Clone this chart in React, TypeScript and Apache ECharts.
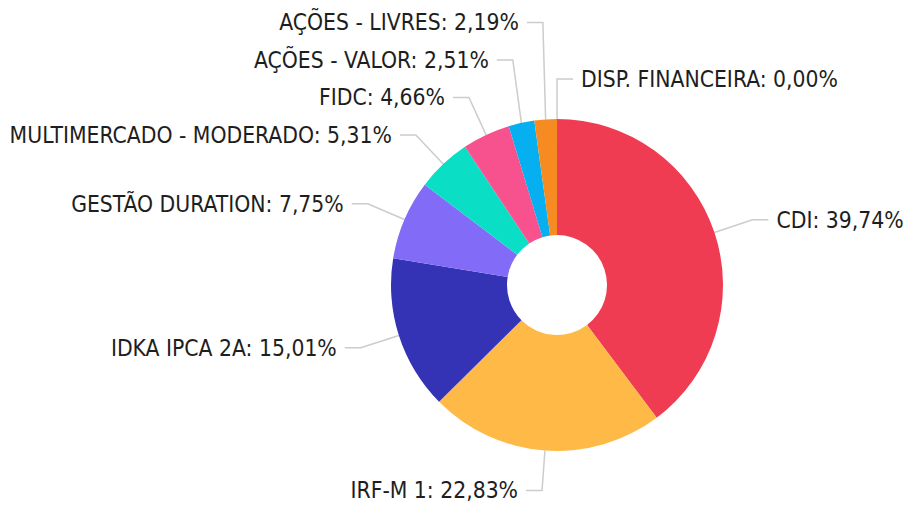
import React, { useEffect, useRef } from 'react';
import * as echarts from 'echarts';

const categories = [
  'CDI',
  'IRF-M 1',
  'IDKA IPCA 2A',
  'GESTÃO DURATION',
  'MULTIMERCADO - MODERADO',
  'FIDC',
  'AÇÕES - VALOR',
  'AÇÕES - LIVRES',
  'DISP. FINANCEIRA',
];
const values = [39.74, 22.83, 15.01, 7.75, 5.31, 4.66, 2.51, 2.19, 0.0];
const sliceColors = [
  '#F03C52',
  '#FFB946',
  '#3432B5',
  '#826CF7',
  '#0ADFC6',
  '#F7528E',
  '#05AFF0',
  '#F68B22',
  '#9aa0a6',
];

// vertical room each outside label needs when labels are stacked
const LABEL_SLOT = 37.5;

export default function App() {
  const ref = useRef<HTMLDivElement>(null);
  useEffect(() => {
    document.body.style.margin = '0';
    if (!ref.current) return;
    const chart = echarts.init(ref.current, undefined, { renderer: 'svg' });
    // final label y of left-side labels, filled in data order (bottom -> top)
    const placed: Record<number, number> = {};
    chart.setOption({
      animation: false,
      backgroundColor: '#ffffff',
      series: [
        {
          type: 'pie',
          center: [557, 285],
          radius: [50, 166],
          startAngle: 89.99,
          clockwise: true,
          avoidLabelOverlap: false,
          data: categories.map((name, i) => ({
            name,
            value: values[i],
            itemStyle: { color: sliceColors[i] },
          })),
          label: {
            show: true,
            position: 'outside',
            color: '#1e1e1e',
            fontSize: 22.7,
            fontFamily: "'DejaVu Sans Condensed', 'DejaVu Sans', sans-serif",
            padding: [6, 0, 0, 0],
            distanceToLabelLine: 8,
            formatter: (p: any) => `${p.name}: ${Number(p.value).toFixed(2).replace('.', ',')}%`,
          },
          labelLine: {
            show: true,
            length: 40,
            length2: 16,
            lineStyle: { color: '#cccccc', width: 1.5 },
          },
          labelLayout: (params: any) => {
            const pts = params.labelLinePoints;
            if (!pts || params.align !== 'right') return {};
            const idx = params.dataIndex;
            const naturalY = pts[1][1];
            let prevY: number | undefined;
            for (let k = idx - 1; k >= 0; k--) {
              if (placed[k] !== undefined) {
                prevY = placed[k];
                break;
              }
            }
            let y = naturalY;
            if (prevY !== undefined && prevY - LABEL_SLOT < y) y = prevY - LABEL_SLOT;
            placed[idx] = y;
            if (y === naturalY) return {};
            return {
              y,
              labelLinePoints: [
                [pts[0][0], pts[0][1]],
                [pts[1][0], y],
                [pts[2][0], y],
              ],
            };
          },
          emphasis: { disabled: true },
        },
      ],
    });
    return () => chart.dispose();
  }, []);
  return <div ref={ref} style={{ width: 906, height: 509 }} />;
}
